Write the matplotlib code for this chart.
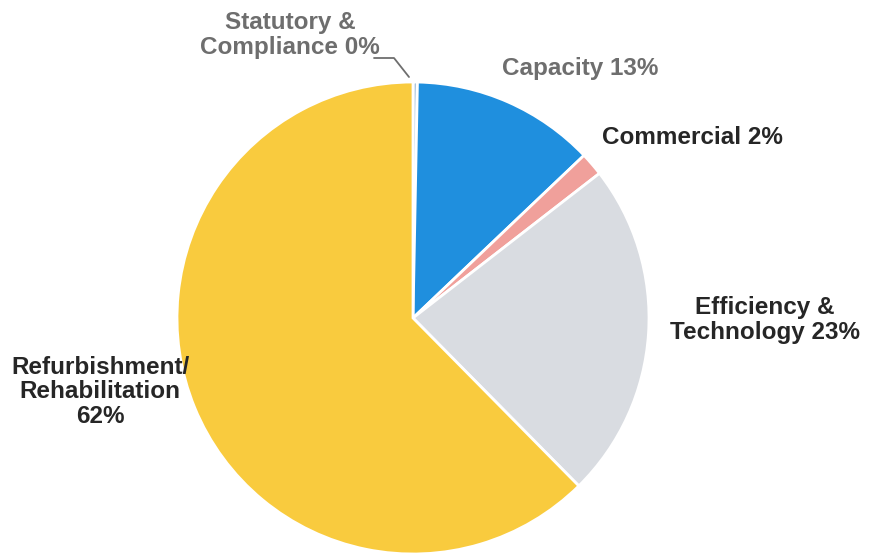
import matplotlib

matplotlib.use("Agg")
import matplotlib.pyplot as plt

# spend share by investment driver, clockwise from 12 o'clock
categories = ["Statutory &\nCompliance", "Capacity", "Commercial",
              "Efficiency &\nTechnology", "Refurbishment/\nRehabilitation\n"]
shares = [0.3, 12.6, 1.6, 23.1, 62.4]
colors = ["#A9C4DE", "#1F8FDE", "#F0A09B", "#D9DCE1", "#F9CB3E"]
text_colors = ["#6E6E6E", "#6E6E6E", "#262626", "#262626", "#262626"]

# label anchors in pixel space (origin bottom-left)
label_xy = [(290, 520), (580, 486), (692, 418), (765, 235), (100, 163)]

W, H = 872, 555
CENTER = (413, 237)
RADIUS = 236

fig = plt.figure(figsize=(W / 100, H / 100), dpi=100)
ax = fig.add_axes([0, 0, 1, 1])

ax.pie(shares, colors=colors, startangle=90, counterclock=False,
       center=CENTER, radius=RADIUS, frame=True,
       wedgeprops=dict(edgecolor="white", linewidth=2.0))
ax.set_xlim(0, W)
ax.set_ylim(0, H)
ax.set_aspect("equal")
ax.axis("off")

for name, val, (x, y), tc in zip(categories, shares, label_xy, text_colors):
    sep = "" if name.endswith("\n") else " "
    ax.text(x, y, f"{name}{sep}{val:.0f}%", ha="center", va="center",
            multialignment="center", fontsize=17.5, fontweight="bold",
            family="Liberation Sans", color=tc, linespacing=1.1)

# leader line for the sliver at the top
ax.plot([374, 394, 409], [497, 497, 478], color="#6E6E6E", lw=1.3,
        solid_capstyle="round")

fig.savefig("out.png", dpi=100)
